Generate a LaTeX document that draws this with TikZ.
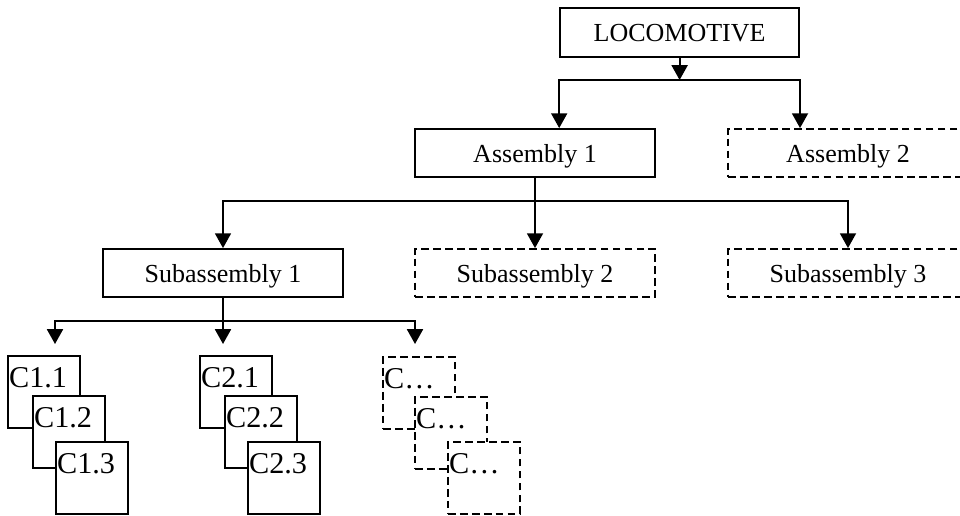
\documentclass[tikz,border=0pt]{standalone}
\usepackage{fontspec}
\setmainfont{Liberation Serif}
\usetikzlibrary{arrows.meta}
\tikzset{
  box/.style={draw, fill=white, minimum width=6cm, minimum height=1.2cm, inner sep=0pt, text depth=0pt, font=\fontsize{18.5}{22}\selectfont},
  dashbox/.style={box, dash pattern=on 5.5pt off 3pt},
  comp/.style={draw, fill=white, minimum size=1.8cm, inner sep=0pt, anchor=north west},
  dashcomp/.style={comp, dash pattern=on 5.5pt off 3pt},
  comptext/.style={anchor=base west, xshift=0.03cm, yshift=-0.8cm, inner sep=0pt, font=\fontsize{21.5}{25}\selectfont},
  arr/.style={-{Triangle[length=0.37cm,width=0.4cm]}},
  arrs/.style={{Triangle[length=0.37cm,width=0.4cm]}-{Triangle[length=0.37cm,width=0.4cm]}}
}
\begin{document}
\begin{tikzpicture}[line width=1.3pt]
\clip (0,0) rectangle (24,12.875);

\node[box, minimum width=5.975cm, minimum height=1.225cm] (loco) at (16.99,12.06) {LOCOMOTIVE};
\node[box] (asm1) at (13.375,9.05) {Assembly 1};
\node[dashbox] (asm2) at (21.2,9.05) {Assembly 2};

\node[box] (sub1) at (5.575,6.05) {Subassembly 1};
\node[dashbox] (sub2) at (13.375,6.05) {Subassembly 2};
\node[dashbox] (sub3) at (21.2,6.05) {Subassembly 3};

\node[comp, label={[comptext]north west:C1.1}] (c11) at (0.175,4.0) {};
\node[comp, label={[comptext]north west:C1.2}] (c12) at (0.8,3.0) {};
\node[comp, label={[comptext]north west:C1.3}] (c13) at (1.375,1.85) {};

\node[comp, label={[comptext]north west:C2.1}] (c21) at (4.975,4.0) {};
\node[comp, label={[comptext]north west:C2.2}] (c22) at (5.6,3.0) {};
\node[comp, label={[comptext]north west:C2.3}] (c23) at (6.175,1.85) {};

\node[dashcomp, label={[comptext]north west:C\ldots}] (c31) at (9.55,3.975) {};
\node[dashcomp, label={[comptext]north west:C\ldots}] (c32) at (10.35,2.975) {};
\node[dashcomp, label={[comptext]north west:C\ldots}] (c33) at (11.175,1.85) {};

\coordinate (locobus) at (16.99,10.875);
\coordinate (asmbus) at (13.375,7.85);
\coordinate (subbus) at (5.575,4.85);
\coordinate (c1in) at (1.375,4.275);
\coordinate (c2in) at (5.575,4.275);
\coordinate (c3in) at (10.375,4.275);

\draw[arr] (loco.south) -- (locobus);
\draw[arrs] (loco.south west |- asm1.north) |- (locobus) -| (loco.south east |- asm2.north);

\draw[arr] (asm1.south) -- (sub2.north);
\draw[arrs] (sub1.north) |- (asmbus) -| (sub3.north);

\draw[arr] (sub1.south) -- (c2in);
\draw[arrs] (c1in) |- (subbus) -| (c3in);
\end{tikzpicture}
\end{document}
